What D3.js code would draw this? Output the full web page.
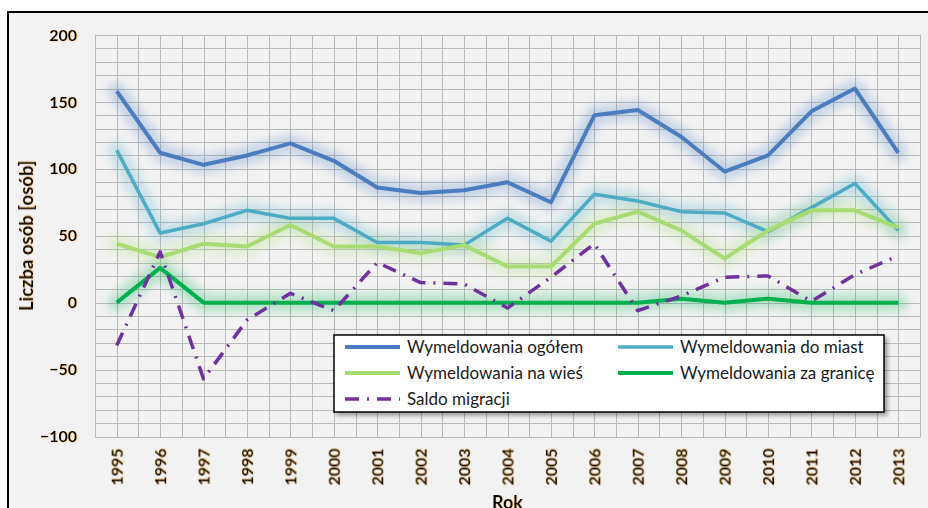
<!DOCTYPE html>
<html>
<head>
<meta charset="utf-8">
<script src="https://cdn.jsdelivr.net/npm/d3@7"></script>
<style>
    body { margin: 0; background: #ffffff; }
    svg text { font-family: Lato, "Open Sans", sans-serif; }
</style>
</head>
<body>
<div id="chart"></div>
<script>
// Dane
var years = ["1995", "1996", "1997", "1998", "1999", "2000", "2001", "2002", "2003", "2004",
    "2005", "2006", "2007", "2008", "2009", "2010", "2011", "2012", "2013"];
var ogolem = [158, 112, 103, 110, 119, 106, 86, 82, 84, 90, 75, 140, 144, 124, 98, 110, 143, 160, 112];
var doMiast = [114, 52, 59, 69, 63, 63, 45, 45, 43, 63, 46, 81, 76, 68, 67, 53, 71, 89, 54];
var naWies = [44, 34, 44, 42, 58, 42, 42, 37, 43, 27, 27, 59, 68, 54, 33, 54, 69, 69, 56];
var zaGranice = [0, 26, 0, 0, 0, 0, 0, 0, 0, 0, 0, 0, 0, 3, 0, 3, 0, 0, 0];
var saldo = [-32, 38, -57, -13, 7, -6, 30, 15, 14, -4, 19, 44, -6, 5, 19, 20, 1, 21, 35];
var yTicks = [-100, -50, 0, 50, 100, 150, 200];

var series = [
    { name: "Wymeldowania ogółem", values: ogolem, color: "#4a7dbf", width: 4, glow: true },
    { name: "Wymeldowania do miast", values: doMiast, color: "#4bacc6", width: 3.5, glow: true },
    { name: "Wymeldowania na wieś", values: naWies, color: "#a6dc72", width: 4, glow: true },
    { name: "Wymeldowania za granicę", values: zaGranice, color: "#00b050", width: 4, glow: true },
    { name: "Saldo migracji", values: saldo, color: "#7030a0", width: 3.5, dash: "14,8,2,8" }
];

var svgWidth = 928;
var svgHeight = 508;
var margin = { top: 35, right: 8, bottom: 72, left: 95 };

var svg = d3.select("#chart")
    .append("svg")
    .attr("width", svgWidth)
    .attr("height", svgHeight);

var defs = svg.append("defs");
defs.append("filter")
    .attr("id", "glow")
    .attr("x", "-20%").attr("y", "-50%")
    .attr("width", "140%").attr("height", "200%")
    .append("feGaussianBlur")
    .attr("stdDeviation", 5);

var textGlow = defs.append("filter").attr("id", "textglow")
    .attr("x", "-20%").attr("y", "-30%").attr("width", "140%").attr("height", "160%");
textGlow.append("feDropShadow")
    .attr("dx", 0.5).attr("dy", 0.5).attr("stdDeviation", 0.5)
    .attr("flood-color", "#f0a030").attr("flood-opacity", 0.5);

var legendShadow = defs.append("filter").attr("id", "legendshadow")
    .attr("x", "-5%").attr("y", "-10%").attr("width", "110%").attr("height", "130%");
legendShadow.append("feDropShadow")
    .attr("dx", 3).attr("dy", 3).attr("stdDeviation", 2)
    .attr("flood-color", "#000").attr("flood-opacity", 0.35);

// Tlo wykresu z ramka
svg.append("rect")
    .attr("x", 8)
    .attr("y", 12)
    .attr("width", svgWidth + 20)
    .attr("height", svgHeight + 20)
    .attr("fill", "#f2f2f2")
    .attr("stroke", "#000")
    .attr("stroke-width", 2);

var plotLeft = margin.left;
var plotRight = svgWidth - margin.right;
var plotTop = margin.top;
var plotBottom = svgHeight - margin.bottom;

// Skale
var xScale = d3.scaleBand()
    .domain(years)
    .range([plotLeft, plotRight]);
var xPos = function (i) { return xScale(years[i]) + xScale.bandwidth() / 2; };

var yScale = d3.scaleLinear()
    .domain([-100, 200])
    .range([plotBottom + 0.5, plotTop]);

// Siatka
var grid = svg.append("g").attr("stroke", "#b9b9b9").attr("stroke-width", 1);
grid.selectAll("line.h")
    .data(d3.range(-100, 201, 10))
    .enter()
    .append("line")
    .attr("x1", plotLeft)
    .attr("x2", plotRight)
    .attr("y1", (d) => Math.round(yScale(d)) + 0.5)
    .attr("y2", (d) => Math.round(yScale(d)) + 0.5);

var vLines = [];
years.forEach(function (y, i) {
    vLines.push(xScale(y));
    vLines.push(xPos(i));
});
vLines.push(plotRight);
grid.selectAll("line.v")
    .data(vLines)
    .enter()
    .append("line")
    .attr("x1", (d) => Math.round(d) + 0.5)
    .attr("x2", (d) => Math.round(d) + 0.5)
    .attr("y1", plotTop)
    .attr("y2", Math.round(yScale(-100)) + 0.5);

// Osie
var yAxis = svg.append("g")
    .attr("transform", "translate(" + (plotLeft - 18) + ",0)")
    .call(d3.axisLeft(yScale).tickValues(yTicks).tickSize(0).tickPadding(0));
yAxis.select(".domain").remove();
yAxis.selectAll("text")
    .attr("font-size", 16)
    .attr("font-weight", "bold")
    .attr("fill", "#000")
    .attr("filter", "url(#textglow)");

var xAxis = svg.append("g")
    .attr("transform", "translate(0," + (yScale(-100) + 12) + ")")
    .call(d3.axisBottom(xScale).tickSize(0).tickPadding(0));
xAxis.select(".domain").remove();
xAxis.selectAll(".tick text")
    .attr("font-size", 16)
    .attr("font-weight", "bold")
    .attr("fill", "#000")
    .attr("transform", "rotate(-90)")
    .attr("text-anchor", "start")
    .attr("x", -37)
    .attr("y", 0)
    .attr("dy", "0.35em")
    .attr("filter", "url(#textglow)");

// Tytuly osi
svg.append("text")
    .attr("transform", "translate(33," + ((plotTop + yScale(-100)) / 2) + ") rotate(-90)")
    .attr("text-anchor", "middle")
    .attr("font-size", 18.5)
    .attr("font-weight", "bold")
    .attr("fill", "#000")
    .attr("filter", "url(#textglow)")
    .text("Liczba osób [osób]");
svg.append("text")
    .attr("x", (plotLeft + plotRight) / 2)
    .attr("y", 509)
    .attr("text-anchor", "middle")
    .attr("font-size", 18)
    .attr("font-weight", "bold")
    .attr("fill", "#000")
    .attr("filter", "url(#textglow)")
    .text("Rok");

// Linie
var line = d3.line()
    .x((d, i) => xPos(i))
    .y((d) => yScale(d));

series.forEach(function (s) {
    if (s.glow) {
        svg.append("path")
            .datum(s.values)
            .attr("d", line)
            .attr("fill", "none")
            .attr("stroke", s.color)
            .attr("stroke-width", 18)
            .attr("stroke-linejoin", "round")
            .attr("stroke-linecap", "round")
            .attr("opacity", 0.25)
            .attr("filter", "url(#glow)");
    }
});
series.forEach(function (s) {
    svg.append("path")
        .datum(s.values)
        .attr("d", line)
        .attr("fill", "none")
        .attr("stroke", s.color)
        .attr("stroke-width", s.width)
        .attr("stroke-linejoin", "round")
        .attr("stroke-dasharray", s.dash || null);
});

// Legenda
var legend = svg.append("g").attr("transform", "translate(334,335)");
legend.append("rect")
    .attr("width", 550)
    .attr("height", 77)
    .attr("fill", "#fff")
    .attr("stroke", "#000")
    .attr("stroke-width", 1.5)
    .attr("filter", "url(#legendshadow)");

var items = legend.selectAll("g.item")
    .data(series)
    .enter()
    .append("g")
    .attr("transform", function (d, i) {
        return "translate(" + (i % 2 === 0 ? 11 : 284) + "," + (12 + Math.floor(i / 2) * 26) + ")";
    });
items.append("line")
    .attr("x1", 0)
    .attr("x2", 55)
    .attr("stroke", (d) => d.color)
    .attr("stroke-width", (d) => d.width)
    .attr("stroke-dasharray", (d) => d.dash || null);
items.append("text")
    .attr("x", 62)
    .attr("dy", "0.35em")
    .attr("font-size", 17)
    .attr("fill", "#1a1a1a")
    .text((d) => d.name);
</script>
</body>
</html>
